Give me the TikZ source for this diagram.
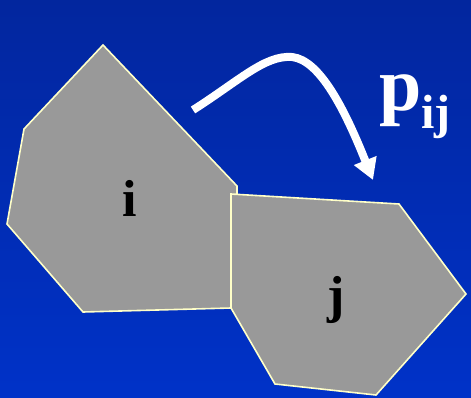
\documentclass[tikz,border=0pt]{standalone}
\usepackage{fontspec}
\setmainfont{Liberation Serif}
\usetikzlibrary{arrows.meta}
\definecolor{DeepBlue}{RGB}{2,38,158}
\definecolor{RoyalBlue}{RGB}{0,50,200}
\definecolor{CellGray}{RGB}{153,153,153}
\definecolor{PaleYellow}{RGB}{255,255,200}
\tikzset{
  cell/.style={draw=PaleYellow,fill=CellGray,line width=1.6pt},
  cellname/.style={font=\fontsize{52}{52}\selectfont\bfseries,text=black,inner sep=0pt},
  flow/.style={-{Triangle[length=21pt,width=23pt]},line width=8pt,white}
}

\begin{document}
\begin{tikzpicture}[x=1pt,y=-1pt]
  % background
  \shade[top color=DeepBlue,bottom color=RoyalBlue] (0,0) rectangle (471,397);

  % cell i
  \draw[cell] (103,45) -- (237,186) -- (237,194) -- (231,308) -- (83,312)
    -- (7,224) -- (24,129) -- cycle;
  % cell j
  \draw[cell] (231,194) -- (399,204) -- (466,294) -- (376,395) -- (275,384)
    -- (231,308) -- cycle;

  \node[cellname,anchor=base] (i) at (130,216) {i};
  \node[cellname,anchor=base] (j) at (336,312) {j};
  \node[cellname,text=white,anchor=base west,font=\fontsize{76}{76}\selectfont\bfseries]
    (pij) at (379,110) {p\raisebox{-18pt}{\fontsize{48}{48}\selectfont ij}};

  % transfer arrow
  \coordinate (from) at (193,110);
  \coordinate (to) at (373,180);
  \draw[flow] (from) .. controls (240,80) and (265,55) .. (292,57)
    .. controls (320,60) and (345,110) .. (to);
\end{tikzpicture}
\end{document}
